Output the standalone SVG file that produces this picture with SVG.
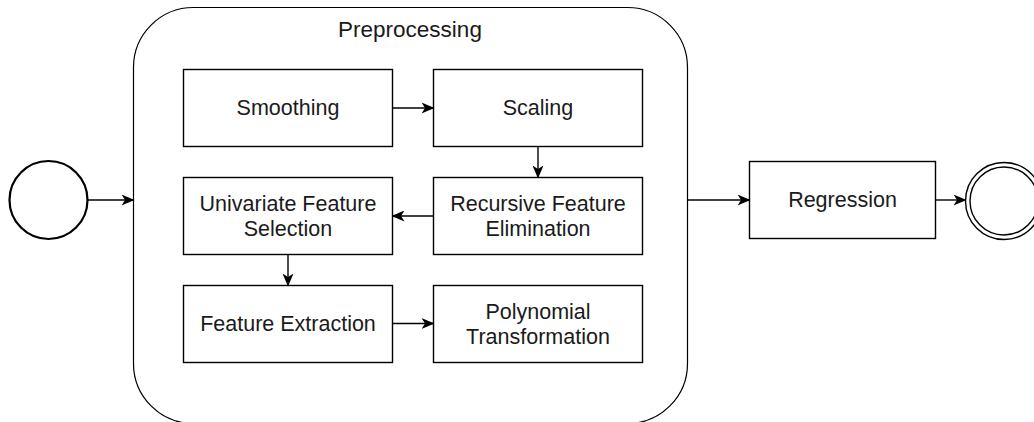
<svg xmlns="http://www.w3.org/2000/svg" width="1034" height="422" viewBox="0 0 1034 422">
  <style>
    .box { fill: #ffffff; stroke: #000000; stroke-width: 1.4; }
    .label { font-family: "Liberation Sans", Arial, Helvetica, sans-serif; font-size: 21.5px; fill: #1a1a1a; text-anchor: middle; }
    .title { font-size: 22.5px; }
    .edge { fill: none; stroke: #000000; stroke-width: 1.4; marker-end: url(#arrow); }
  </style>
  <defs>
    <marker id="arrow" viewBox="0 0 13 11" refX="12" refY="5.5" markerWidth="13" markerHeight="11" markerUnits="userSpaceOnUse" orient="auto">
      <path d="M0,0 L13,5.5 L0,11 L3.5,5.5 Z" fill="#000000"/>
    </marker>
  </defs>

  <rect width="1034" height="422" fill="#ffffff"/>

  <!-- Preprocessing container -->
  <g id="preprocessing">
    <rect x="133.5" y="7.5" width="554" height="416" rx="60" ry="60" fill="#ffffff" stroke="#000000" stroke-width="1.2"/>
    <text class="label title" x="410" y="37">Preprocessing</text>
  </g>

  <!-- Start event -->
  <g id="start">
    <circle cx="48.5" cy="200" r="39" fill="#ffffff" stroke="#000000" stroke-width="2.2"/>
  </g>

  <g id="smoothing">
    <rect class="box" x="183.5" y="69.5" width="209" height="77"/>
    <text class="label" x="288" y="115">Smoothing</text>
  </g>

  <g id="scaling">
    <rect class="box" x="433.5" y="69.5" width="209" height="77"/>
    <text class="label" x="538" y="115">Scaling</text>
  </g>

  <g id="recursive-feature-elimination">
    <rect class="box" x="433.5" y="177.5" width="209" height="77"/>
    <text class="label" x="538" y="211">Recursive Feature</text>
    <text class="label" x="538" y="236">Elimination</text>
  </g>

  <g id="univariate-feature-selection">
    <rect class="box" x="183.5" y="177.5" width="209" height="77"/>
    <text class="label" x="288" y="211">Univariate Feature</text>
    <text class="label" x="288" y="236">Selection</text>
  </g>

  <g id="feature-extraction">
    <rect class="box" x="183.5" y="285.5" width="209" height="77"/>
    <text class="label" x="288" y="331">Feature Extraction</text>
  </g>

  <g id="polynomial-transformation">
    <rect class="box" x="433.5" y="285.5" width="209" height="77"/>
    <text class="label" x="538" y="319">Polynomial</text>
    <text class="label" x="538" y="344">Transformation</text>
  </g>

  <g id="regression">
    <rect class="box" x="749.5" y="161.5" width="186" height="77"/>
    <text class="label" x="842.5" y="207">Regression</text>
  </g>

  <!-- End event -->
  <g id="end">
    <circle cx="1004" cy="201" r="38.5" fill="#ffffff" stroke="#000000" stroke-width="1.4"/>
    <circle cx="1004" cy="201" r="34" fill="none" stroke="#000000" stroke-width="1.4"/>
  </g>

  <!-- Connectors -->
  <g id="connectors">
    <path class="edge" d="M88,200 L133.5,200"/>
    <path class="edge" d="M392.5,108 L433.5,108"/>
    <path class="edge" d="M538,146.5 L538,177.5"/>
    <path class="edge" d="M433.5,216 L392.5,216"/>
    <path class="edge" d="M288,254.5 L288,285.5"/>
    <path class="edge" d="M392.5,323.5 L433.5,323.5"/>
    <path class="edge" d="M687.5,200 L749.5,200"/>
    <path class="edge" d="M935.5,200 L965.5,200"/>
  </g>
</svg>
